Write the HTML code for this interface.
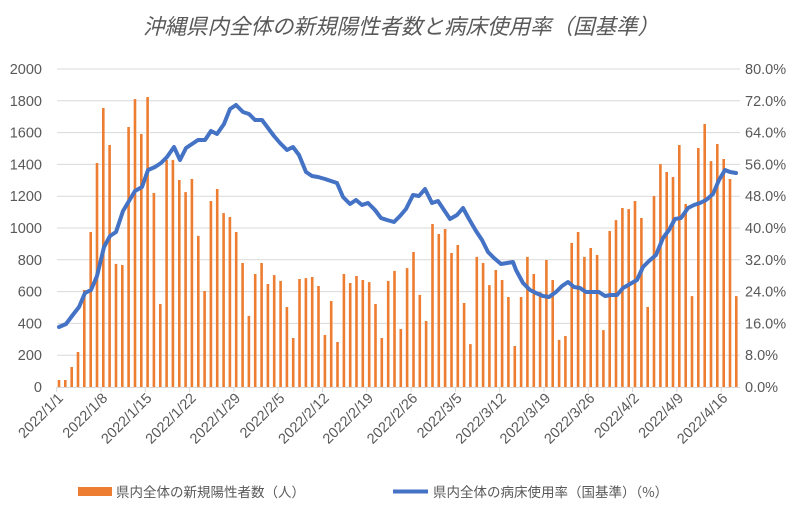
<!DOCTYPE html>
<html><head><meta charset="utf-8"><style>body{margin:0;background:#fff}svg{display:block}</style></head><body>
<svg width="802" height="508" viewBox="0 0 802 508" xmlns="http://www.w3.org/2000/svg" font-family="Liberation Sans, Noto Sans CJK JP, sans-serif">
<rect width="802" height="508" fill="#fff"/>
<text x="401" y="34" text-anchor="middle" font-size="21.5" font-style="italic" fill="#595959" font-family="Noto Sans CJK JP, sans-serif">沖縄県内全体の新規陽性者数と病床使用率（国基準）</text>
<g id="grid" stroke="#d9d9d9" stroke-width="1"></g>
<g id="bars" fill="#ED7D31"></g>
<line x1="57" y1="387.5" x2="740" y2="387.5" stroke="#d9d9d9"/>
<g id="ticks" stroke="#d9d9d9"></g>
<polyline id="line" fill="none" stroke="#4472C4" stroke-width="4" stroke-linejoin="round" stroke-linecap="round"/>
<g id="ylab" font-size="14.5" fill="#595959"></g>
<g id="xlab" font-size="14.5" fill="#595959"></g>
<rect x="78" y="487" width="34" height="9" fill="#ED7D31"/>
<text x="116" y="497" font-size="13.5" fill="#595959" font-family="Noto Sans CJK JP, sans-serif">県内全体の新規陽性者数（人）</text>
<line x1="393" y1="491.5" x2="428" y2="491.5" stroke="#4472C4" stroke-width="4"/>
<text x="433" y="497" font-size="13.5" fill="#595959" font-family="Noto Sans CJK JP, sans-serif">県内全体の病床使用率（国基準）（%）</text>
</svg>
<script>
const ns="http://www.w3.org/2000/svg";
function el(p,t,a,txt){const e=document.createElementNS(ns,t);for(const k in a)e.setAttribute(k,a[k]);if(txt!=null)e.textContent=txt;document.getElementById(p).appendChild(e);return e;}
const y0=387,sc=318/2000;
for(let k=1;k<=10;k++){const y=387-k*31.8;el('grid','line',{x1:57,x2:740,y1:y.toFixed(1),y2:y.toFixed(1)});}
for(let k=0;k<=10;k++){const y=387-k*31.8;
el('ylab','text',{x:42,y:(y+5).toFixed(1),'text-anchor':'end'},String(k*200));
el('ylab','text',{x:745,y:(y+5).toFixed(1)},(k*8).toFixed(1)+'%');}
const v=[44,44,126,220,610,975,1409,1755,1522,774,767,1635,1811,1591,1824,1220,522,1428,1428,1302,1226,1308,950,604,1170,1245,1094,1069,975,780,447,711,780,648,704,667,503,
308,679,685,692,635,327,541,283,711,654,698,673,660,522,308,667,730,365,748,849,579,415,1025,962,994,843,893,528,270,818,780,641,736,673,566,
258,566,818,711,598,799,673,296,321,906,975,818,874,830,358,981,1050,1126,1119,1170,1063,503,1201,1402,1352,1321,1522,1151,572,1503,1654,1421,1528,1434,1308,572];
v.forEach((d,i)=>{const x=59+6.33*i;const h=d*sc;el('bars','rect',{x:(x-1.3).toFixed(1),y:(y0-h).toFixed(1),width:2.6,height:h.toFixed(1)});});
for(let k=0;k<16;k++){const x=56.7+44.3*k;el('ticks','line',{x1:x,x2:x,y1:387,y2:392});}
const labs=['1/1','1/8','1/15','1/22','1/29','2/5','2/12','2/19','2/26','3/5','3/12','3/19','3/26','4/2','4/9','4/16'];
labs.forEach((l,k)=>{const x=59+44.3*k+5,y=399;el('xlab','text',{x:x,y:y,'text-anchor':'end',transform:`rotate(-45 ${x} ${y})`},'2022/'+l);});
const pts=[[59,327],[66,324],[72,316],[79,307],[85,293],[91,290],[97,276],[104,247],[110,236],[116,232],[123,211],[129,201],[135,191],[142,187],[148,170],[155,167],[161,163],[167,157],[174,147],[180,160],[186,148],[192,144],[198,140],[205,140],[211,131],[217,134],[224,124],[230,109],[236,105],[243,112],[249,114],[255,120],[262,120],[268,128],[274,136],[280,143],[287,150],[293,147],[299,155],[306,172],[312,176],[318,177],[325,179],[331,181],[337,183],[343,197],[350,204],[356,200],[362,205],[368,203],[375,210],[381,218],[387,220],[394,222],[400,216],[406,209],[413,195],[419,196],[425,189],[432,203],[438,201],[444,210],[450,219],[457,215],[463,208],[469,219],[476,231],[482,240],[488,252],[494,258],[501,264],[507,263],[513,262],[516,270],[523,283],[530,290],[536,293],[543,296],[549,297],[556,292],[562,286],[568,282],[574,287],[580,288],[586,292],[592,292],[599,292],[605,296],[611,295],[617,295],[623,288],[630,284],[637,280],[643,267],[649,261],[656,255],[663,238],[669,230],[675,219],[681,218],[688,208],[694,205],[700,203],[706,200],[713,194],[719,180],[725,170],[730,172],[736,173]];
document.getElementById('line').setAttribute('points',pts.map(p=>p.join(',')).join(' '));
</script>
</body></html>
